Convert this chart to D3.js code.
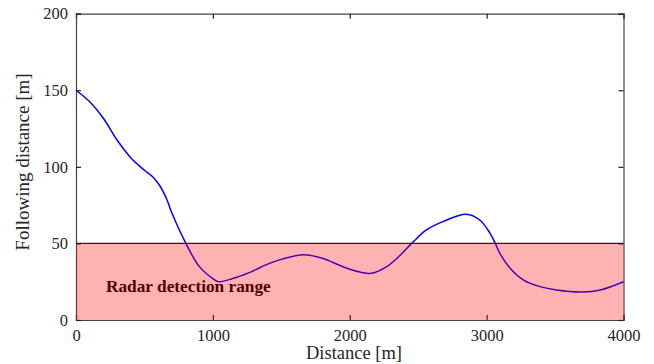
<!DOCTYPE html>
<html><head><meta charset="utf-8">
<script src="https://cdn.jsdelivr.net/npm/d3@7"></script>
<style>body{margin:0;background:#fff;} svg{display:block;} text{font-family:"Times New Roman","Liberation Serif",Tinos,"DejaVu Serif",serif;}</style>
</head><body>
<script>
const distance = [0,100,200,300,400,500,560,610,660,700,800,900,1000,1040,1150,1270,1400,1500,1660,1800,1950,2075,2160,2270,2370,2460,2560,2680,2850,2950,3025,3060,3100,3170,3270,3390,3510,3700,3830,4000];
const following = [150,142.5,131.7,117.5,106,97.8,93.5,88,79.5,70,50.5,35,27,25,27.2,31.1,36.5,39.6,42.6,40.3,34.8,31.3,30.5,34.8,42.4,50.7,58.8,64.2,69,65.3,56.6,50.7,43,34,26.1,21.8,19.6,18.3,19.6,25];
const xTicks = [0,1000,2000,3000,4000];
const yTicks = [0,50,100,150,200];
const radarRange = 50;
const radarLabel = "Radar detection range";
const xLabel = "Distance [m]";
const yLabel = "Following distance [m]";

const W=654,H=364, L=76, R=623.5, T=13.7, B=320;
const svg=d3.select("body").append("svg").attr("width",W).attr("height",H);
const x=d3.scaleLinear().domain([0,4000]).range([L,R]);
const y=d3.scaleLinear().domain([0,200]).range([B,T]);
const font='"Times New Roman","Liberation Serif",Tinos,"DejaVu Serif",serif';

// line
const data=distance.map((d,i)=>[d,following[i]]);
svg.append("path").datum(data)
  .attr("d",d3.line().x(d=>x(d[0])).y(d=>y(d[1])).curve(d3.curveCatmullRom.alpha(0.5)))
  .attr("fill","none").attr("stroke","#0000ff").attr("stroke-width",1.5);

// label (under overlay)
svg.append("text").attr("x",106).attr("y",y(18.5)).text(radarLabel)
  .style("font-family",font).style("font-weight","bold").style("font-size","17.3px").attr("fill","#000");

// axes
const ticklen=5;
const gx=svg.append("g").attr("transform",`translate(0,${B})`)
  .call(d3.axisBottom(x).tickValues(xTicks).tickSize(-ticklen).tickPadding(9).tickFormat(d3.format("d")));
const gxt=svg.append("g").attr("transform",`translate(0,${T})`)
  .call(d3.axisTop(x).tickValues(xTicks).tickSize(-ticklen).tickFormat(""));
const gy=svg.append("g").attr("transform",`translate(${L},0)`)
  .call(d3.axisLeft(y).tickValues(yTicks).tickSize(-ticklen).tickPadding(8));
const gyr=svg.append("g").attr("transform",`translate(${R},0)`)
  .call(d3.axisRight(y).tickValues(yTicks).tickSize(-ticklen).tickFormat(""));
[gx,gxt,gy,gyr].forEach(g=>{
  g.attr("font-family",null).attr("font-size",null);
  g.select(".domain").attr("stroke","#444").attr("stroke-width",1.2);
  g.selectAll(".tick line").attr("stroke","#222").attr("stroke-width",1.2);
  g.selectAll("text").style("font-family",font).style("font-size","16.5px").attr("fill","#262626");
});

// overlay
svg.append("rect").attr("x",x(0)).attr("y",y(radarRange)).attr("width",x(4000)-x(0)).attr("height",y(0)-y(radarRange))
  .attr("fill","#ff0000").attr("fill-opacity",0.3);
svg.append("line").attr("x1",x(0)).attr("x2",x(4000)).attr("y1",y(radarRange)).attr("y2",y(radarRange))
  .attr("stroke","#222").attr("stroke-width",1.2);

// axis titles
svg.append("text").attr("x",354).attr("y",359).attr("text-anchor","middle").text(xLabel)
  .style("font-family",font).style("font-size","18.5px").attr("fill","#262626");
svg.append("text").attr("transform",`translate(29,162) rotate(-90)`).attr("text-anchor","middle").text(yLabel)
  .style("font-family",font).style("font-size","19px").attr("fill","#262626");
</script>
</body></html>
